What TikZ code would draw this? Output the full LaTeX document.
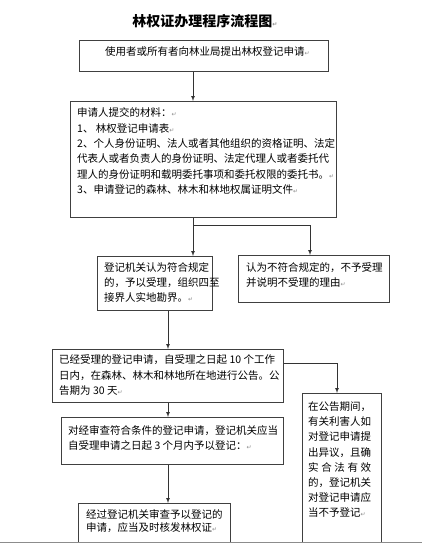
\documentclass[tikz,border=0pt]{standalone}
\usepackage{fontspec}
\setmainfont{Noto Sans CJK SC}
\newfontfamily\symfont{DejaVu Sans}
\usetikzlibrary{positioning,calc,arrows}

\newcommand{\pmark}{{\symfont\fontsize{6}{6}\selectfont\textcolor{black!45}{↵}}}

\tikzset{
  box/.style={draw=black!75, line width=0.9pt, anchor=north west, inner sep=0pt},
  txt/.style={anchor=north west, inner sep=0pt, align=left,
    font=\fontsize{10.5}{15.4}\selectfont},
  arr/.style={draw=black!80, line width=0.7pt, -latex},
  link/.style={draw=black!80, line width=0.7pt}
}

\begin{document}
\begin{tikzpicture}[x=1pt,y=-1pt]
\useasboundingbox (0,0) rectangle (422,545);
\fill[white] (0,0) rectangle (422,545);

\node [anchor=center, inner sep=0pt, font=\fontsize{14}{14}\selectfont\bfseries] (title) at (205,21) {林权证办理程序流程图\pmark};

% boxes
\node [box, minimum width=249pt, minimum height=31pt] (apply) at (79,40) {};
\node [box, minimum width=266pt, minimum height=116pt] (materials) at (70,101) {};
\node [box, minimum width=115pt, minimum height=54pt] (accept) at (97,256) {};
\node [box, minimum width=151pt, minimum height=47pt] (reject) at (238,255) {};
\node [box, minimum width=231pt, minimum height=53pt] (notice) at (52,349) {};
\node [box, minimum width=222pt, minimum height=47pt] (register) at (61,417) {};
\node [box, minimum width=152pt, minimum height=42pt] (issue) at (78,503) {};
\node [box, minimum width=79pt, minimum height=152pt] (objection) at (302,393) {};

% texts
\node [txt, below right=6.5pt and 26pt of apply.north west] (apply-t) {使用者或所有者向林业局提出林权登记申请\pmark};
\node [txt, below right=6.5pt and 7pt of materials.north west] (materials-t) {申请人提交的材料：\pmark\\
1、 林权登记申请表\pmark\\
2、个人身份证明、法人或者其他组织的资格证明、法定\\
代表人或者负责人的身份证明、法定代理人或者委托代\\
理人的身份证明和载明委托事项和委托权限的委托书。\pmark\\
3、申请登记的森林、林木和林地权属证明文件\pmark};
\node [txt, font=\fontsize{10.5}{15}\selectfont, below right=6.5pt and 7pt of accept.north west] (accept-t) {登记机关认为符合规定\\
的，予以受理，组织四至\\
接界人实地勘界。\pmark};
\node [txt, font=\fontsize{10.5}{15}\selectfont, below right=7.5pt and 8pt of reject.north west] (reject-t) {认为不符合规定的，不予受理\\
并说明不受理的理由\pmark};
\node [txt, font=\fontsize{10.5}{15.5}\selectfont, below right=5.5pt and 7pt of notice.north west] (notice-t) {已经受理的登记申请，自受理之日起 10 个工作\\
日内，在森林、林木和林地所在地进行公告。公\\
告期为 30 天\pmark};
\node [txt, font=\fontsize{10.5}{15}\selectfont, below right=8.5pt and 7pt of register.north west] (register-t) {对经审查符合条件的登记申请，登记机关应当\\
自受理申请之日起 3 个月内予以登记：\pmark};
\node [txt, font=\fontsize{10.5}{13}\selectfont, below right=6.5pt and 8pt of issue.north west] (issue-t) {经过登记机关审查予以登记的\\
申请，应当及时核发林权证\pmark};
\node [txt, font=\fontsize{10.5}{15.2}\selectfont, below right=8.5pt and 6pt of objection.north west] (objection-t) {在公告期间，\\
有关利害人如\\
对登记申请提\\
出异议，且确\\
\makebox[63pt][s]{实 合 法 有 效}\\
的，登记机关\\
对登记申请应\\
当不予登记\pmark};

% connectors
\coordinate (spine) at (193,0);
\coordinate (split) at (193,225);
\coordinate (rightx) at (310,0);
\coordinate (midx) at (168,0);
\coordinate (sidex) at (337,0);
\draw [arr] (apply.south -| spine) -- (materials.north -| spine);
\draw [link] (materials.south -| spine) -- (split);
\draw [arr] (split) -- (accept.north -| spine);
\draw [arr] (split) -| (reject.north -| rightx);
\draw [arr] (accept.south -| midx) -- (notice.north -| midx);
\draw [arr] (notice.south -| midx) -- (register.north -| midx);
\draw [arr] (register.south -| midx) -- (issue.north -| midx);
\draw [arr] (notice.east |- 0,363) -| (objection.north -| sidex);

% page edge
\draw [black!45, line width=0.8pt] (0,542) -- (422,542);
\fill [white] (0,543) rectangle (422,545);
\end{tikzpicture}
\end{document}
